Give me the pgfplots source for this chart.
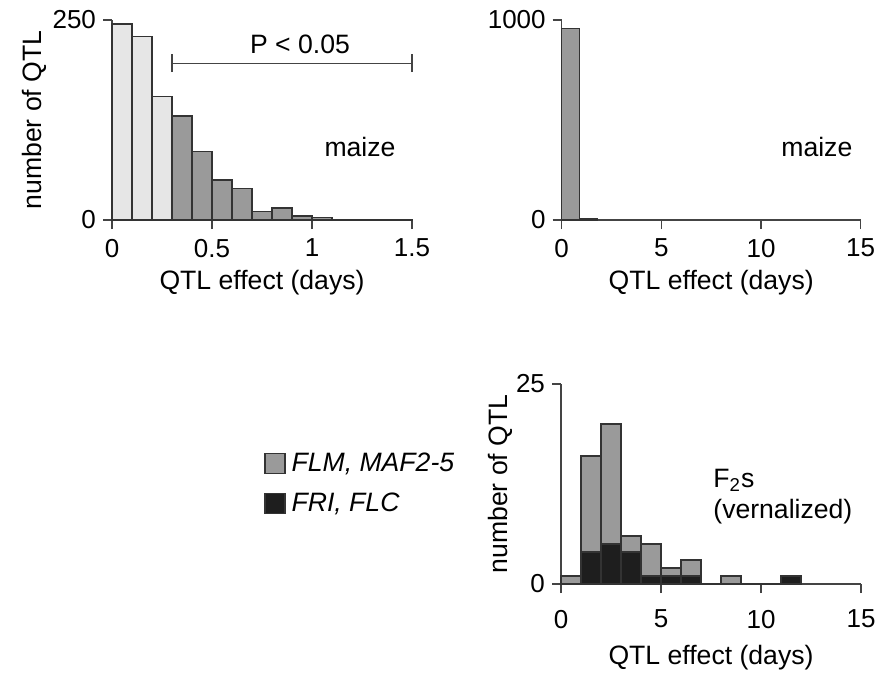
\documentclass[border=0pt]{standalone}
\usepackage{fontspec}
\setmainfont{Liberation Sans}
\usepackage{pgfplots}
\pgfplotsset{compat=1.18}

\definecolor{barlight}{HTML}{E6E6E6}
\definecolor{bardark}{HTML}{9A9A9A}
\definecolor{barblack}{HTML}{1E1E1E}
\definecolor{edge}{HTML}{333333}
\definecolor{axisgray}{HTML}{444444}

\newcommand{\figfont}{\fontsize{13.3}{15.6}\selectfont}
\newcommand{\tickfont}{\fontsize{13}{15.6}\selectfont}

\pgfplotsset{
  histo/.style={
    scale only axis,
    axis lines=left,
    axis line style={-, axisgray, line width=0.6pt},
    tick align=outside,
    major tick length=4.5pt,
    every tick/.style={axisgray, line width=0.6pt},
    /pgf/number format/assume math mode=true,
    /pgf/number format/1000 sep={},
    scaled y ticks=false,
    tick label style={font=\tickfont},
    label style={font=\figfont},
    clip=false,
  },
  bin/.style={ybar interval, draw=edge, line width=0.6pt, fill=#1},
  sqlegend/.style={
    /pgfplots/legend image code/.code={
      \draw[##1] (0pt,-5pt) rectangle (10pt,5pt);
    }
  },
}

\begin{document}
\begin{tikzpicture}
\path[use as bounding box] (0,0) rectangle (439pt,338pt);

% maize, effects below 1.5 days
\begin{axis}[histo,
  at={(56pt,228pt)}, anchor=south west,
  width=150pt, height=100pt,
  xmin=0, xmax=1.5, ymin=0, ymax=250,
  xtick={0,0.5,1,1.5}, ytick={0,250},
  xticklabel style={yshift=-1.5pt},
  xlabel={QTL effect (days)},
  ylabel={number of QTL},
  xlabel style={at={(axis description cs:0.5,-0.315)}, anchor=center},
  ylabel style={at={(axis description cs:-0.26,0.5)}, anchor=center},
]
\addplot[bin=barlight] coordinates {(0,245) (0.1,229) (0.2,154) (0.3,0)};
\addplot[bin=bardark] coordinates {(0.3,130) (0.4,86) (0.5,50) (0.6,39) (0.7,11)
  (0.8,15) (0.9,5) (1.0,3) (1.1,1) (1.2,1) (1.3,0) (1.4,1) (1.5,0)};
\draw[axisgray, line width=0.6pt] (axis cs:0.3,196) -- (axis cs:1.5,196)
  (axis cs:0.3,185) -- (axis cs:0.3,207)
  (axis cs:1.5,185) -- (axis cs:1.5,207);
\node[font=\figfont] at (axis cs:0.94,219) {P < 0.05};
\node[font=\figfont] at (axis cs:1.24,91) {maize};
\end{axis}

% maize, full range
\begin{axis}[histo,
  at={(280.85pt,228pt)}, anchor=south west,
  width=149.5pt, height=100pt,
  xmin=0, xmax=15, ymin=0, ymax=1000,
  xtick={0,5,10,15}, ytick={0,1000},
  xticklabel style={yshift=-1.5pt},
  xlabel={QTL effect (days)},
  xlabel style={at={(axis description cs:0.5,-0.315)}, anchor=center},
]
\addplot[bin=bardark] coordinates {(0,958) (0.9,7) (1.8,0)};
\node[font=\figfont] at (axis cs:12.8,366) {maize};
\end{axis}

% vernalized F2 populations
\begin{axis}[histo,
  at={(280.5pt,46pt)}, anchor=south west,
  width=150pt, height=100pt,
  xmin=0, xmax=15, ymin=0, ymax=25,
  xtick={0,5,10,15}, ytick={0,25},
  xticklabel style={yshift=-5pt},
  xlabel={QTL effect (days)},
  ylabel={number of QTL},
  xlabel style={at={(axis description cs:0.5,-0.3675)}, anchor=center},
  ylabel style={at={(axis description cs:-0.203,0.5)}, anchor=center},
  legend style={at={(axis description cs:-1.01,0.677)}, anchor=north west,
    draw=none, fill=none, font=\itshape\figfont, row sep=9pt,
    nodes={inner sep=0pt}},
  legend cell align=left,
]
% all QTL
\addplot[bin=bardark, sqlegend] coordinates {(0,1) (1,16) (2,20) (3,6) (4,5) (5,2)
  (6,3) (7,0) (8,1) (9,0) (10,0) (11,0) (12,0)};
\addlegendentry{\hspace{3pt}FLM, MAF2-5}
% QTL at FRI and FLC
\addplot[bin=barblack, sqlegend] coordinates {(0,0) (1,4) (2,5) (3,4) (4,1) (5,1)
  (6,1) (7,0) (8,0) (9,0) (10,0) (11,1) (12,0)};
\addlegendentry{\hspace{3pt}FRI, FLC}
\node[font=\figfont, align=left, anchor=north west, inner sep=0pt]
  at (axis cs:7.6,14.4) {F\textsubscript{2}s\\(vernalized)};
\end{axis}
\end{tikzpicture}
\end{document}
